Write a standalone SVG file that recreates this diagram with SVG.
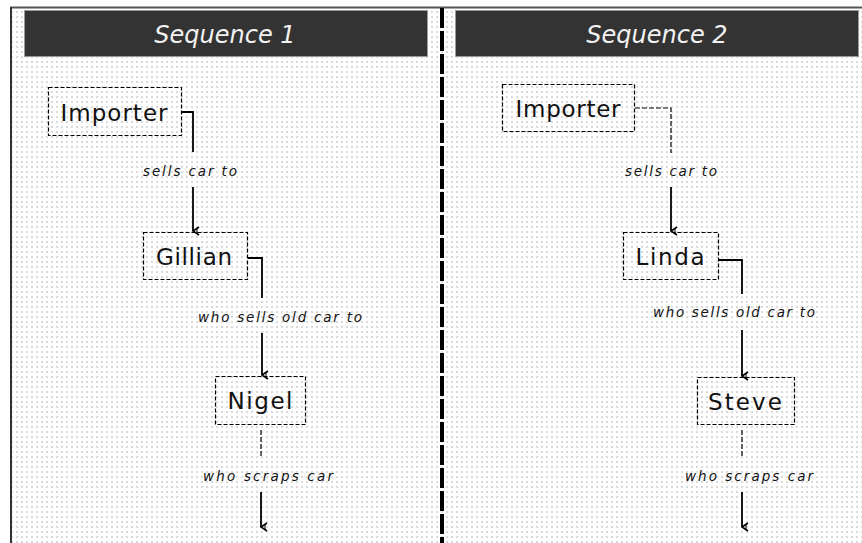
<svg xmlns="http://www.w3.org/2000/svg" width="862" height="543" viewBox="0 0 862 543">
  <style>
    .hdr { fill: #333333; stroke: #9a9a9a; stroke-width: 1; }
    .hdr-text { font-family: "DejaVu Sans", "Liberation Sans", sans-serif; font-style: italic; font-size: 24px; fill: #f2f2f2; text-anchor: middle; }
    .box { fill: none; stroke: #000; stroke-width: 1.2; stroke-dasharray: 4 2; }
    .name { font-family: "DejaVu Sans", "Liberation Sans", sans-serif; font-size: 23px; fill: #111; text-anchor: middle; }
    .lbl { font-family: "DejaVu Sans", "Liberation Sans", sans-serif; font-style: italic; font-size: 13.5px; fill: #111; text-anchor: middle; }
    .link { fill: none; stroke: #000; stroke-width: 1.8; }
    .link-d { fill: none; stroke: #000; stroke-width: 1.2; stroke-dasharray: 5 2; }
  </style>
  <defs>
    <pattern id="stipple" width="5" height="5" patternUnits="userSpaceOnUse">
      <rect width="5" height="5" fill="#ffffff"/>
      <rect x="1" y="1" width="2" height="2" fill="#dadada"/>
    </pattern>
    <marker id="arrow" markerWidth="10" markerHeight="10" refX="5" refY="9" orient="auto-start-reverse" markerUnits="userSpaceOnUse" viewBox="0 0 10 10">
      <polyline points="1,3 5,9 9,3" fill="none" stroke="#000" stroke-width="1.6"/>
      <line x1="2" y1="5" x2="8" y2="5" stroke="#000" stroke-width="1"/>
    </marker>
  </defs>

  <!-- page background and frame -->
  <rect x="0" y="0" width="862" height="543" fill="#ffffff"/>
  <rect x="11" y="8" width="851" height="535" fill="url(#stipple)"/>
  <line x1="10" y1="7.5" x2="862" y2="7.5" stroke="#555" stroke-width="2"/>
  <line x1="11" y1="7" x2="11" y2="543" stroke="#333" stroke-width="2"/>
  <line x1="442" y1="8" x2="442" y2="543" stroke="#000" stroke-width="4" stroke-dasharray="20 3"/>

  <!-- column headers -->
  <g id="header-1">
    <rect class="hdr" x="24.5" y="10.5" width="403" height="46"/>
    <text class="hdr-text" x="225" y="43">Sequence 1</text>
  </g>
  <g id="header-2">
    <rect class="hdr" x="455.5" y="10.5" width="403" height="46"/>
    <text class="hdr-text" x="657" y="43">Sequence 2</text>
  </g>

  <!-- sequence 1 nodes -->
  <g id="importer-1">
    <rect class="box" x="48.5" y="87.5" width="133" height="48"/>
    <text class="name" x="114" y="121" textLength="107" lengthAdjust="spacing">Importer</text>
  </g>
  <g id="gillian">
    <rect class="box" x="143.5" y="232.5" width="104" height="47"/>
    <text class="name" x="194" y="265" textLength="76" lengthAdjust="spacing">Gillian</text>
  </g>
  <g id="nigel">
    <rect class="box" x="215.5" y="376.5" width="90" height="48"/>
    <text class="name" x="260" y="409" textLength="65" lengthAdjust="spacing">Nigel</text>
  </g>

  <!-- sequence 2 nodes -->
  <g id="importer-2">
    <rect class="box" x="502.5" y="84.5" width="132" height="47"/>
    <text class="name" x="568" y="117" textLength="105" lengthAdjust="spacing">Importer</text>
  </g>
  <g id="linda">
    <rect class="box" x="623.5" y="232.5" width="95" height="47"/>
    <text class="name" x="670" y="265" textLength="69" lengthAdjust="spacing">Linda</text>
  </g>
  <g id="steve">
    <rect class="box" x="697.5" y="377.5" width="97" height="47"/>
    <text class="name" x="745" y="410" textLength="74" lengthAdjust="spacing">Steve</text>
  </g>

  <!-- connectors -->
  <g id="connectors">
    <!-- Importer -> Gillian -->
    <polyline class="link" points="182,112 193,112 193,152"/>
    <line class="link" x1="193" y1="187" x2="193" y2="231" marker-end="url(#arrow)"/>
    <text class="lbl" x="190" y="176" textLength="94" lengthAdjust="spacing">sells car to</text>

    <!-- Gillian -> Nigel -->
    <polyline class="link" points="248,258 262,258 262,298"/>
    <line class="link" x1="262" y1="333" x2="262" y2="375" marker-end="url(#arrow)"/>
    <text class="lbl" x="280" y="322" textLength="164" lengthAdjust="spacing">who sells old car to</text>

    <!-- Nigel -> scrap -->
    <line class="link-d" x1="261" y1="430" x2="261" y2="457"/>
    <line class="link" x1="261" y1="492" x2="261" y2="527" marker-end="url(#arrow)"/>
    <text class="lbl" x="268" y="481" textLength="130" lengthAdjust="spacing">who scraps car</text>

    <!-- Importer -> Linda -->
    <polyline class="link-d" points="635,108 671,108 671,153"/>
    <line class="link" x1="671" y1="187" x2="671" y2="231" marker-end="url(#arrow)"/>
    <text class="lbl" x="671" y="176" textLength="92" lengthAdjust="spacing">sells car to</text>

    <!-- Linda -> Steve -->
    <polyline class="link" points="719,260 742,260 742,294"/>
    <line class="link" x1="742" y1="330" x2="742" y2="376" marker-end="url(#arrow)"/>
    <text class="lbl" x="734" y="317" textLength="162" lengthAdjust="spacing">who sells old car to</text>

    <!-- Steve -> scrap -->
    <line class="link-d" x1="742" y1="430" x2="742" y2="457"/>
    <line class="link" x1="742" y1="492" x2="742" y2="527" marker-end="url(#arrow)"/>
    <text class="lbl" x="749" y="481" textLength="128" lengthAdjust="spacing">who scraps car</text>
  </g>
</svg>
